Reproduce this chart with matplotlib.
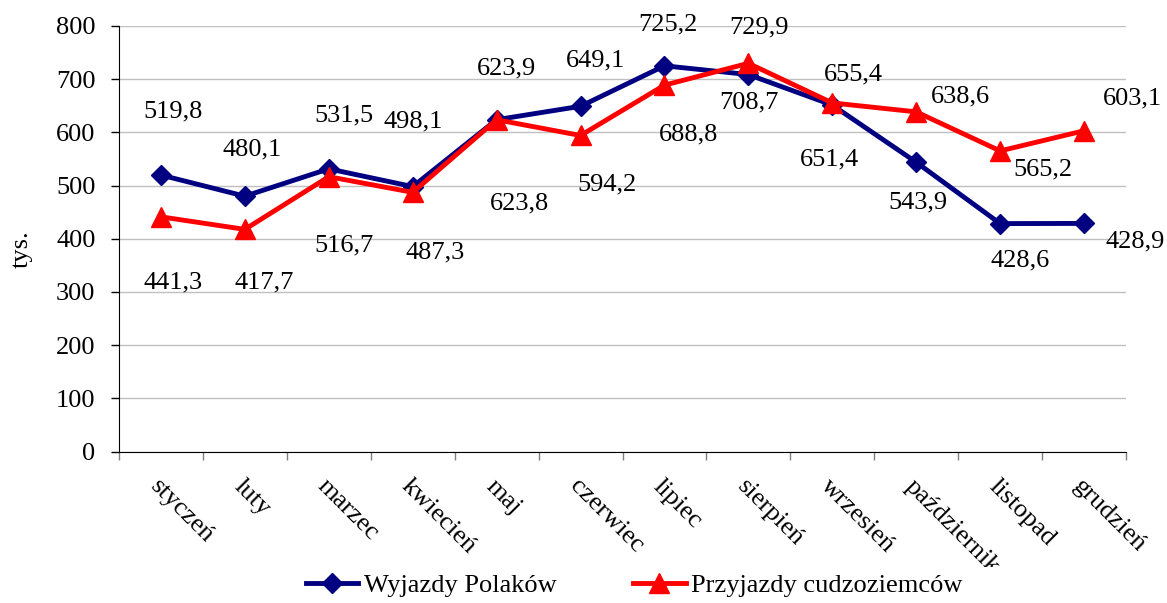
import numpy as np
import matplotlib
matplotlib.use("Agg")
import matplotlib.pyplot as plt
from matplotlib.transforms import Bbox

months = ["styczeń", "luty", "marzec", "kwiecień", "maj", "czerwiec", "lipiec",
          "sierpień", "wrzesień", "październik", "listopad", "grudzień"]
wyjazdy = [519.8, 480.1, 531.5, 498.1, 623.9, 649.1, 725.2, 708.7, 651.4, 543.9, 428.6, 428.9]
przyjazdy = [441.3, 417.7, 516.7, 487.3, 623.8, 594.2, 688.8, 729.9, 655.4, 638.6, 565.2, 603.1]

# label offsets (pixels, relative to the point) as placed in the original chart
off_wyj = [(12, 64), (7, 47), (15, 53), (0, 65), (10, 51), (15, 46),
           (3, 41), (1, -28), (-3, -54), (2, -40), (20, -37), (51, -18)]
off_prz = [(12, -66), (19, -53), (15, -69), (22, -60), (23, -84), (26, -49),
           (24, -49), (11, 36), (21, 28), (44, 15), (43, -19), (48, 32)]

plt.rcParams['font.family'] = ['Liberation Serif', 'DejaVu Serif']
fs = 19

W, H = 1167, 603
fig = plt.figure(figsize=(W / 100, H / 100), dpi=100)
ax = fig.add_axes([119 / W, 1 - 451.6 / H, (1126 - 119) / W, (451.6 - 26) / H])

x = np.arange(len(months))
ax.plot(x, wyjazdy, color="#000080", lw=3.5, marker="D", ms=10,
        label="Wyjazdy Polaków", zorder=3)
ax.plot(x, przyjazdy, color="#FF0000", lw=3.5, marker="^", ms=14,
        label="Przyjazdy cudzoziemców", zorder=4)

for i in range(len(months)):
    ax.annotate(f"{wyjazdy[i]:.1f}".replace(".", ","), (x[i], wyjazdy[i]),
                xytext=off_wyj[i], textcoords="offset pixels",
                ha="center", va="center", fontsize=fs, annotation_clip=False)
    ax.annotate(f"{przyjazdy[i]:.1f}".replace(".", ","), (x[i], przyjazdy[i]),
                xytext=off_prz[i], textcoords="offset pixels",
                ha="center", va="center", fontsize=fs, annotation_clip=False)

ax.set_xlim(-0.5, len(months) - 0.5)
ax.set_ylim(0, 800)
ax.set_yticks(np.arange(0, 801, 100))
ax.yaxis.grid(True, color="#c0c0c0", lw=1)
ax.set_axisbelow(True)
for s in ["top", "right"]:
    ax.spines[s].set_visible(False)
ax.tick_params(axis="y", direction="out", length=6, width=1, pad=11, labelsize=fs)

ax.set_xticks(x)
ax.set_xticks(np.arange(-0.5, len(months), 1), minor=True)
ax.tick_params(axis="x", which="major", length=0, pad=17, labelsize=fs)
ax.tick_params(axis="x", which="minor", direction="out", length=6, width=1, color="#808080")
ax.set_xticklabels(months, rotation=-45, ha="left", va="top", rotation_mode="anchor")

# the bottom of the labels is cut like in the original
clip = Bbox.from_extents(0, H - 567, W, H)
for t in ax.get_xticklabels():
    t.set_clip_box(clip)
    t.set_clip_on(True)

fig.text(22 / W, 1 - 249 / H, "tys.", rotation=90, ha="center", va="center", fontsize=fs)

fig.legend(loc="center", bbox_to_anchor=(634 / W, 1 - 585 / H), ncol=2, frameon=False,
           fontsize=fs, handlelength=2.0, handletextpad=0.2, columnspacing=2.9,
           borderaxespad=0)

fig.savefig("out.png", dpi=100)
